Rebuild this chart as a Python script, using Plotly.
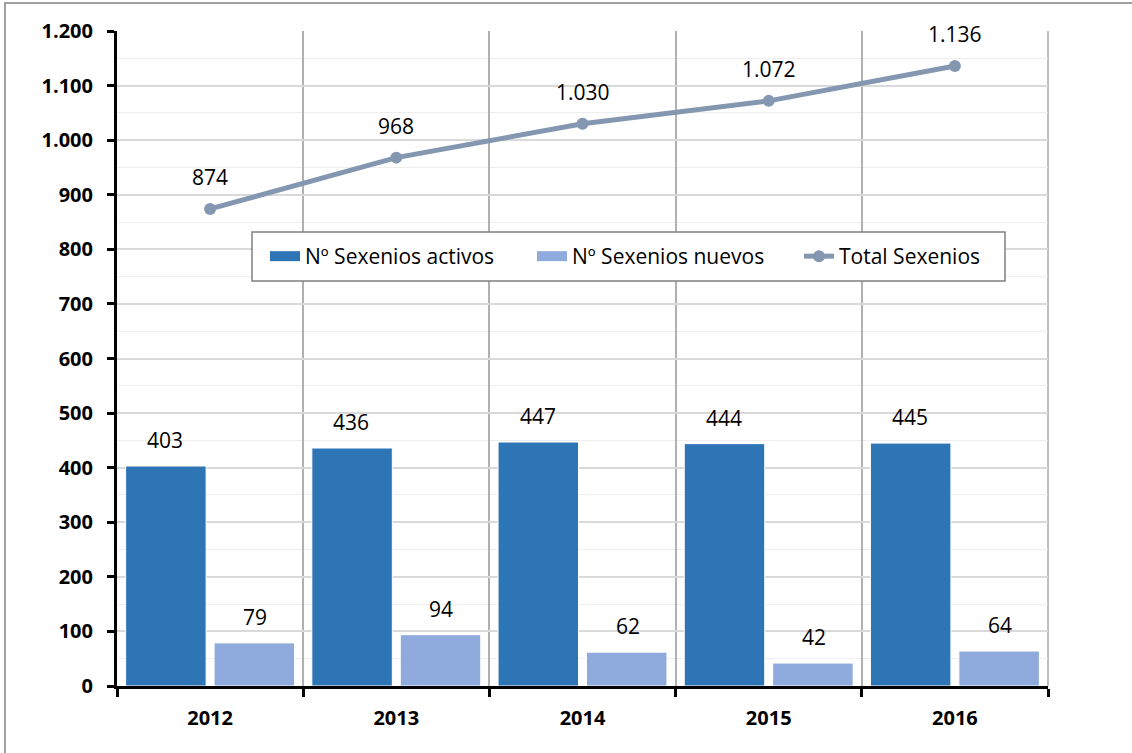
import plotly.graph_objects as go

years = ["2012", "2013", "2014", "2015", "2016"]
activos = [403, 436, 447, 444, 445]
nuevos = [79, 94, 62, 42, 64]
total = [874, 968, 1030, 1072, 1136]

names = ["Nº Sexenios activos", "Nº Sexenios nuevos", "Total Sexenios"]
c_act = "#2E75B6"
c_new = "#8FAADC"
c_tot = "#8497B0"

FONT = "Open Sans, Calibri, sans-serif"

fig = go.Figure()
fig.add_trace(go.Bar(x=years, y=activos, name=names[0], showlegend=False,
                     marker=dict(color=c_act, line=dict(color="white", width=1))))
fig.add_trace(go.Bar(x=years, y=nuevos, name=names[1], showlegend=False,
                     marker=dict(color=c_new, line=dict(color="white", width=1))))
fig.add_trace(go.Scatter(x=years, y=total, name=names[2], mode="lines+markers", showlegend=False,
                         line=dict(color=c_tot, width=5), marker=dict(color=c_tot, size=12)))
# legend-only entries (wide swatches like the original)
fig.add_trace(go.Scatter(x=[None], y=[None], name=names[0], mode="lines",
                         line=dict(color=c_act, width=13)))
fig.add_trace(go.Scatter(x=[None], y=[None], name=names[1], mode="lines",
                         line=dict(color=c_new, width=13)))
fig.add_trace(go.Scatter(x=[None], y=[None], name=names[2], mode="lines+markers",
                         line=dict(color=c_tot, width=5), marker=dict(color=c_tot, size=12)))

def fmt(v):
    return f"{v:,}".replace(",", ".")

LBL = dict(size=21, color="black", family=FONT)
ann = []
for i, (a, n, t) in enumerate(zip(activos, nuevos, total)):
    ann.append(dict(x=i, y=a, text=fmt(a), xshift=-45, yshift=26, showarrow=False, font=LBL))
    ann.append(dict(x=i, y=n, text=fmt(n), xshift=45, yshift=26, showarrow=False, font=LBL))
    ann.append(dict(x=i, y=t, text=fmt(t), yshift=32, showarrow=False, font=LBL))

W, H = 1132, 753
ml, mr, mt, mb = 117, 84, 31, 67
pw, ph = W - ml - mr, H - mt - mb

def px(x):
    return (x - ml) / pw

def py(y):
    return (H - mb - y) / ph

shapes = [
    dict(type="rect", xref="paper", yref="paper",
         x0=px(5), x1=px(1140), y0=py(760), y1=py(3),
         line=dict(color="#A0A0A0", width=2), layer="below"),
    dict(type="line", xref="paper", yref="paper", x0=1, x1=1, y0=0, y1=1,
         line=dict(color="#BFBFBF", width=2), layer="below"),
    # legend box
    dict(type="rect", xref="paper", yref="paper",
         x0=px(252), x1=px(1005), y0=py(281), y1=py(232),
         fillcolor="white", line=dict(color="#808080", width=1.5), layer="above"),
]

fig.update_layout(
    width=W, height=H,
    margin=dict(l=ml, r=mr, t=mt, b=mb),
    paper_bgcolor="white", plot_bgcolor="white",
    separators=",.",
    barmode="group", bargap=0.05, bargroupgap=0.09,
    font=dict(family=FONT, color="black"),
    showlegend=True,
    legend=dict(orientation="h", x=px(265), y=py(256.5), xanchor="left", yanchor="middle",
                bgcolor="rgba(0,0,0,0)", borderwidth=0,
                font=dict(size=21, family=FONT), tracegroupgap=0,
                entrywidth=222, entrywidthmode="pixels"),
    annotations=ann,
    shapes=shapes,
)

TICKF = dict(size=20, family=FONT, color="black", weight="bold")
fig.update_xaxes(type="category", range=[-0.5, len(years) - 0.5], tickson="boundaries",
                 showgrid=True, gridcolor="#B0B0B0", gridwidth=1.5,
                 showline=True, linecolor="black", linewidth=3,
                 ticks="outside", ticklen=8, tickwidth=3, tickcolor="black",
                 ticklabelstandoff=12, tickfont=TICKF)
fig.update_yaxes(range=[0, 1200], dtick=100, tickformat=",d", showgrid=True, gridcolor="#D9D9D9", gridwidth=1.5,
                 minor=dict(dtick=50, showgrid=True, gridcolor="#EEEEEE", gridwidth=1),
                 showline=True, linecolor="black", linewidth=3, zeroline=False,
                 ticks="outside", ticklen=7, tickwidth=3, tickcolor="black",
                 ticklabelstandoff=10, tickfont=TICKF)

fig.write_html("out.html", config={"displayModeBar": False},
               post_script="document.body.style.margin='0';")
